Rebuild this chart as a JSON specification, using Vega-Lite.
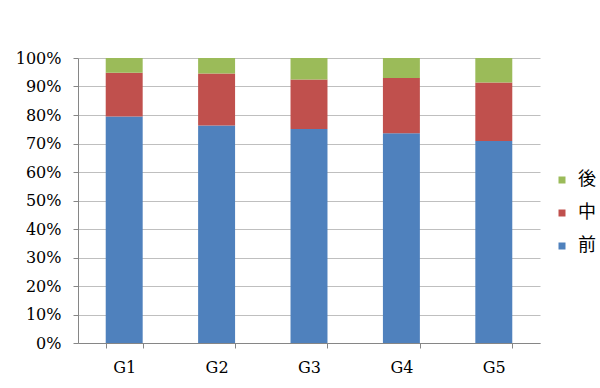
{
  "$schema": "https://vega.github.io/schema/vega-lite/v6.json",
  "width": 462,
  "height": 285,
  "autosize": "none",
  "padding": {"left": 78, "top": 58, "right": 60, "bottom": 45},
  "background": "white",
  "data": {
    "values": [
      {"g": "G1", "s": "前", "o": 1, "v": 79.5},
      {"g": "G1", "s": "中", "o": 2, "v": 15.3},
      {"g": "G1", "s": "後", "o": 3, "v": 5.2},
      {"g": "G2", "s": "前", "o": 1, "v": 76.3},
      {"g": "G2", "s": "中", "o": 2, "v": 18.3},
      {"g": "G2", "s": "後", "o": 3, "v": 5.4},
      {"g": "G3", "s": "前", "o": 1, "v": 75.1},
      {"g": "G3", "s": "中", "o": 2, "v": 17.4},
      {"g": "G3", "s": "後", "o": 3, "v": 7.5},
      {"g": "G4", "s": "前", "o": 1, "v": 73.6},
      {"g": "G4", "s": "中", "o": 2, "v": 19.4},
      {"g": "G4", "s": "後", "o": 3, "v": 7.0},
      {"g": "G5", "s": "前", "o": 1, "v": 70.9},
      {"g": "G5", "s": "中", "o": 2, "v": 20.5},
      {"g": "G5", "s": "後", "o": 3, "v": 8.6}
    ]
  },
  "mark": {"type": "bar"},
  "encoding": {
    "x": {
      "field": "g", "type": "nominal", "title": null,
      "scale": {"paddingInner": 0.6, "paddingOuter": 0.3},
      "axis": {
        "labelAngle": 0, "labelFont": "DejaVu Serif", "labelFontSize": 16, "labelColor": "#000",
        "domainColor": "#868686", "tickColor": "#868686", "tickSize": 5, "tickBand": "extent",
        "labelPadding": 11, "grid": false
      }
    },
    "y": {
      "field": "v", "type": "quantitative", "stack": "normalize", "title": null,
      "scale": {"domain": [0, 1]},
      "axis": {
        "format": ".0%", "values": [0,0.1,0.2,0.3,0.4,0.5,0.6,0.7,0.8,0.9,1],
        "labelOverlap": false, "labelBound": false, "labelFlush": false,
        "labelFont": "DejaVu Serif", "labelFontSize": 16, "labelColor": "#000",
        "domainColor": "#868686", "tickColor": "#868686", "tickSize": 5, "labelPadding": 12,
        "grid": true, "gridColor": "#BFBFBF", "gridWidth": 1
      }
    },
    "color": {
      "field": "s", "type": "nominal",
      "scale": {"domain": ["後", "中", "前"], "range": ["#9BBB59", "#C0504D", "#4F81BD"]},
      "legend": {
        "title": null, "orient": "none", "legendX": 475, "legendY": 113,
        "symbolType": "square", "symbolSize": 49, "symbolStrokeWidth": 0,
        "labelFont": "Noto Sans CJK JP", "labelFontSize": 18, "labelColor": "#000",
        "labelOffset": 7, "rowPadding": 15, "padding": 0
      }
    },
    "order": {"field": "o", "type": "quantitative"}
  },
  "config": {
    "view": {"stroke": null}
  }
}
